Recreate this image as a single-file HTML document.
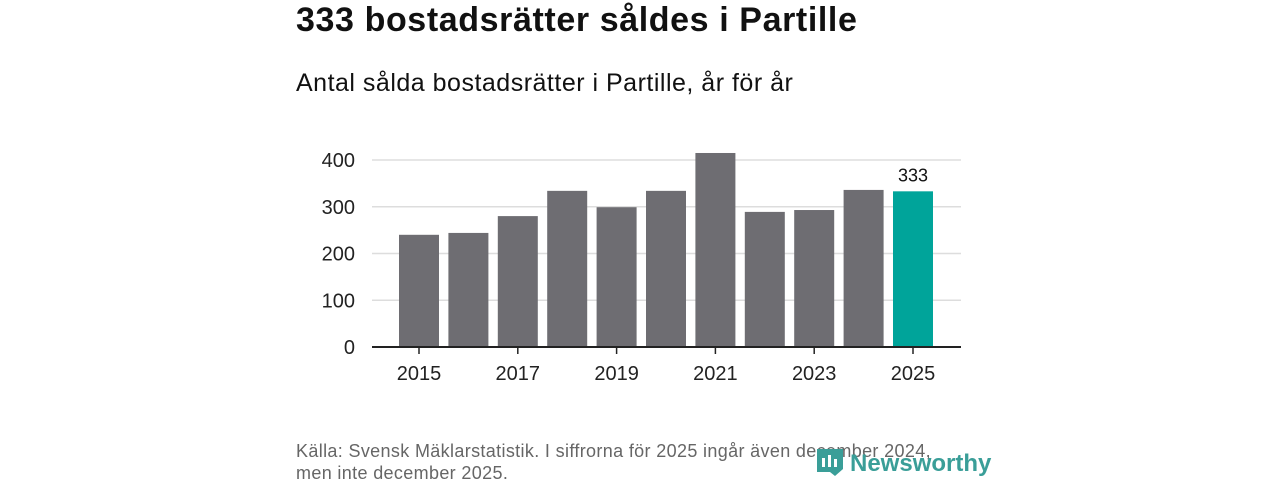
<!DOCTYPE html>
<html><head><meta charset="utf-8"><style>
body{margin:0;width:1280px;height:480px;background:#fff;font-family:"Liberation Sans",sans-serif;position:relative;overflow:hidden}
.t{position:absolute;white-space:nowrap}
</style></head><body>
<div class="t" style="left:296px;top:1px;font-size:34px;letter-spacing:0.6px;font-weight:bold;color:#111">333 bostadsrätter såldes i Partille</div>
<div class="t" style="left:296px;top:69px;font-size:25px;letter-spacing:0.5px;color:#111">Antal sålda bostadsrätter i Partille, år för år</div>
<svg id="c" width="1280" height="480" style="position:absolute;left:0;top:0"></svg>
<div class="t" style="left:296px;top:440px;font-size:18px;letter-spacing:0.35px;color:#666;line-height:22px">Källa: Svensk Mäklarstatistik. I siffrorna för 2025 ingår även december 2024,<br>men inte december 2025.</div>
<div class="t" style="left:816px;top:446px;font-size:24px;font-weight:bold;color:#3a9e98">
<svg width="30" height="32" style="vertical-align:-7px;margin-right:4px"><path d="M1 3h26v20l-8 7-5-4H1z" fill="#3a9e98"/><rect x="6" y="12" width="3" height="9" fill="#fff"/><rect x="12" y="9" width="3" height="12" fill="#fff"/><rect x="18" y="13" width="3" height="8" fill="#fff"/></svg>Newsworthy</div>
<script>
const years=[2015,2016,2017,2018,2019,2020,2021,2022,2023,2024,2025];
const values=[240,244,280,334,299,334,415,289,293,336,333];
const yTicks=[0,100,200,300,400];
const xLabels=[2015,2017,2019,2021,2023,2025];
const NS="http://www.w3.org/2000/svg",svg=document.getElementById('c');
const y=v=>347-v*0.4675, x=i=>419+i*49.4;
function mk(t,a){const e=document.createElementNS(NS,t);for(const k in a)e.setAttribute(k,a[k]);svg.appendChild(e);return e;}
yTicks.forEach(v=>{
 if(v>0){const g=mk('line',{x1:372,x2:961,y1:y(v),y2:y(v),stroke:'#ddd','stroke-width':1.5});
 
 }
 const t=mk('text',{x:355,y:y(v)+7,'text-anchor':'end','font-size':20,fill:'#222','font-family':'Liberation Sans'});t.textContent=v;
 
 
});
values.forEach((v,i)=>{
 const r=mk('rect',{x:x(i)-20,y:y(v),width:40,height:347-y(v),fill:i==values.length-1?'#00a49a':'#6e6d72'});
 
 
});
const last=values.length-1;
const lb=mk('text',{x:x(last),y:y(values[last])-10,'text-anchor':'middle','font-size':18,fill:'#111','font-family':'Liberation Sans'});lb.textContent=values[last];


const ax=mk('line',{x1:372,x2:961,y1:347,y2:347,stroke:'#222','stroke-width':2});


xLabels.forEach(yr=>{
 const i=years.indexOf(yr);
 const tk=mk('line',{x1:x(i),x2:x(i),y1:347,y2:354,stroke:'#222','stroke-width':1.5});
 
 
 const t=mk('text',{x:x(i),y:380,'text-anchor':'middle','font-size':20,fill:'#222','font-family':'Liberation Sans'});t.textContent=yr;
 
 
});
</script>
</body></html>
